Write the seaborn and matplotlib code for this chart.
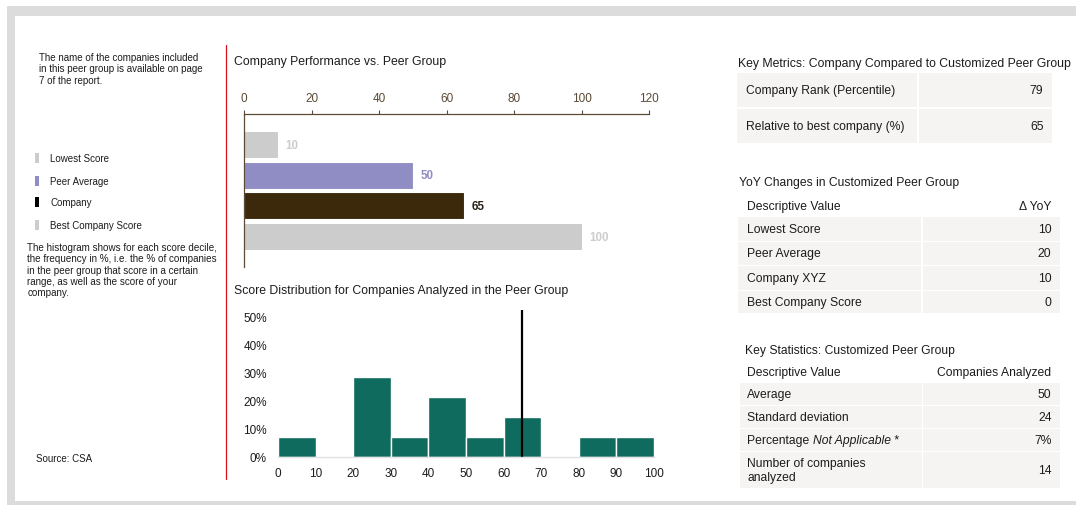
import numpy as np
import pandas as pd
import matplotlib
matplotlib.use("Agg")
import matplotlib.pyplot as plt
import seaborn as sns
from matplotlib.patches import Rectangle

# ---------------- data ----------------
perf_labels = ["Lowest Score", "Peer Average", "Company", "Best Company Score"]
perf_values = [10, 50, 65, 100]
perf_colors = ["#cccccc", "#908dc4", "#3c290b", "#cccccc"]
perf_label_colors = ["#cccccc", "#908dc4", "#2a2116", "#cccccc"]
perf_ticks = [0, 20, 40, 60, 80, 100, 120]

hist_bin_left = [0, 10, 20, 30, 40, 50, 60, 70, 80, 90]
hist_freq_pct = [7.1, 0, 28.6, 7.1, 21.4, 7.1, 14.3, 0, 7.1, 7.1]
company_score = 65
hist_yticks = [0, 10, 20, 30, 40, 50]
hist_xticks = [0, 10, 20, 30, 40, 50, 60, 70, 80, 90, 100]

km_labels = ["Company Rank (Percentile)", "Relative to best company (%)"]
km_values = ["79", "65"]
yoy_labels = ["Lowest Score", "Peer Average", "Company XYZ", "Best Company Score"]
yoy_values = ["10", "20", "10", "0"]
st_labels = ["Average", "Standard deviation", "Percentage |Not Applicable| *",
             "Number of companies\nanalyzed"]
st_values = ["50", "24", "7%", "14"]

legend_labels = ["Lowest Score", "Peer Average", "Company", "Best Company Score"]
legend_colors = ["#cccccc", "#908dc4", "#000000", "#cccccc"]

note_top = ["The name of the companies included",
            "in this peer group is available on page",
            "7 of the report."]
note_hist = ["The histogram shows for each score decile,",
             "the frequency in %, i.e. the % of companies",
             "in the peer group that score in a certain",
             "range, as well as the score of your",
             "company."]

# ---------------- style ----------------
sns.set_style("white")
plt.rcParams['font.family'] = ['Liberation Sans', 'DejaVu Sans']
TXT = "#1c1c1c"
CELL = "#f5f4f2"
TEAL = "#0e6b5d"
BROWN = "#5a4a36"

W, H = 1076, 506
fig = plt.figure(figsize=(W / 100, H / 100), dpi=100)
fig.patch.set_facecolor("white")


def fx(x):
    return x / W


def fy(y):
    return 1 - y / H


def rect(x0, y0, x1, y1, color, z=0):
    fig.patches.append(Rectangle((fx(x0), fy(y1)), (x1 - x0) / W, (y1 - y0) / H,
                                 transform=fig.transFigure, facecolor=color,
                                 edgecolor="none", zorder=z))


def txt(x, y, s, **kw):
    kw.setdefault("color", TXT)
    kw.setdefault("va", "center")
    return fig.text(fx(x), fy(y), s, **kw)


# frame
rect(7, 7, 1090, 520, "#dcdcdc", z=-2)
rect(15, 17, 1090, 502, "white", z=-1)

# red separator
fig.add_artist(plt.Line2D([fx(225.7), fx(225.7)], [fy(46), fy(480)],
                          transform=fig.transFigure, color="#d0121f", lw=0.9))

# ---------------- left notes ----------------
SM = 7.0
for i, line in enumerate(note_top):
    txt(39, 57.7 + i * 11.7, line, fontsize=SM)
leg_y = [159.3, 181.7, 203.3, 225.7]
for yy, lab, col in zip(leg_y, legend_labels, legend_colors):
    rect(34.5, yy - 5, 38.5, yy + 5, col)
    txt(50.5, yy, lab, fontsize=SM)
for i, line in enumerate(note_hist):
    txt(27.3, 247.7 + i * 11.4, line, fontsize=7.1)
txt(35.5, 459, "Source: CSA", fontsize=SM)

# ---------------- bar chart ----------------
txt(234, 62, "Company Performance vs. Peer Group", fontsize=8.8)
ax1 = fig.add_axes([fx(244.3), fy(268), (649 - 244.3) / W, (268 - 115) / H])
sns.barplot(x=perf_values, y=perf_labels, hue=perf_labels, palette=perf_colors,
            orient="h", width=0.88, legend=False, saturation=1,
            edgecolor="white", linewidth=0.8, ax=ax1)
ax1.set_xlim(0, 120)
ax1.set_ylim(3.99, -0.995)
ax1.set_xticks(perf_ticks)
ax1.set_yticks([])
ax1.set_xlabel("")
ax1.set_ylabel("")
ax1.xaxis.tick_top()
ax1.tick_params(axis="x", length=3, width=0.8, color=BROWN, labelcolor=BROWN,
                labelsize=8.5, pad=4)
for s in ["right", "bottom"]:
    ax1.spines[s].set_visible(False)
for s in ["top", "left"]:
    ax1.spines[s].set_color(BROWN)
    ax1.spines[s].set_linewidth(0.9)
for i, (v, c) in enumerate(zip(perf_values, perf_label_colors)):
    ax1.annotate(str(v), (v, i), xytext=(5.5, 0), textcoords="offset points",
                 ha="left", va="center", fontsize=8.3, fontweight="bold", color=c)
ax1.patch.set_alpha(0)

# ---------------- histogram ----------------
hist_df = pd.DataFrame({"mid": [b + 5 for b in hist_bin_left], "pct": hist_freq_pct})
txt(234, 291, "Score Distribution for Companies Analyzed in the Peer Group", fontsize=8.8)
ax2 = fig.add_axes([fx(278), fy(458), (654 - 278) / W, (458 - 311) / H])
sns.histplot(data=hist_df, x="mid", weights="pct",
             bins=list(range(0, 101, 10)), color=TEAL, alpha=1,
             edgecolor="white", linewidth=1.0, ax=ax2)
ax2.axvline(company_score, color="black", lw=1.6, ymin=0, ymax=1)
ax2.set_xlim(0, 100)
ax2.set_ylim(0, 52.5)
ax2.set_yticks(hist_yticks)
ax2.set_yticklabels([f"{t}%" for t in hist_yticks])
ax2.set_xticks(hist_xticks)
ax2.set_xlabel("")
ax2.set_ylabel("")
ax2.tick_params(axis="y", length=0, labelsize=8.5, labelcolor=TXT, pad=8)
ax2.tick_params(axis="x", length=2, color="#e0e0e0", labelsize=8.5, labelcolor=TXT, pad=5)
for s in ["top", "right", "left"]:
    ax2.spines[s].set_visible(False)
ax2.spines["bottom"].set_color("#e3e3e3")
ax2.spines["bottom"].set_linewidth(1.0)
ax2.patch.set_alpha(0)

# ---------------- tables ----------------
FS = 8.7
# table 1
txt(738.5, 64, "Key Metrics: Company Compared to Customized Peer Group", fontsize=8.8)
rows1 = [(74, 108), (110, 144)]
for (y0, y1), lab, val in zip(rows1, km_labels, km_values):
    rect(737, y0, 917, y1, CELL)
    rect(919, y0, 1052, y1, CELL)
    yc = (y0 + y1) / 2
    txt(746, yc, lab, fontsize=FS)
    txt(1043.5, yc, val, fontsize=FS, ha="right")

# table 2
txt(739, 183.3, "YoY Changes in Customized Peer Group", fontsize=FS)
txt(747, 206.7, "Descriptive Value", fontsize=FS)
txt(1051.5, 206.7, "\u0394 YoY", fontsize=FS, ha="right")
rows2 = [(218, 241.5), (242.5, 266), (267, 290.5), (291.5, 314)]
for (y0, y1), lab, val in zip(rows2, yoy_labels, yoy_values):
    rect(738, y0, 921, y1, CELL)
    rect(923, y0, 1060, y1, CELL)
    yc = (y0 + y1) / 2
    txt(747, yc, lab, fontsize=FS)
    txt(1051.5, yc, val, fontsize=FS, ha="right")

# table 3
txt(745, 351.5, "Key Statistics: Customized Peer Group", fontsize=FS)
txt(747, 373.3, "Descriptive Value", fontsize=FS)
txt(1051.5, 373.3, "Companies Analyzed", fontsize=FS, ha="right")
rows3 = [(384, 406), (407, 429), (430, 452), (453, 489)]
fig.canvas.draw()
renderer = fig.canvas.get_renderer()
for (y0, y1), lab, val in zip(rows3, st_labels, st_values):
    rect(740, y0, 921.5, y1, CELL)
    rect(923, y0, 1060, y1, CELL)
    yc = (y0 + y1) / 2
    if "|" in lab:
        parts = lab.split("|")
        x = 747
        for k, p in enumerate(parts):
            t = txt(x, yc, p, fontsize=FS, style="italic" if k == 1 else "normal")
            bb = t.get_window_extent(renderer=renderer)
            x += bb.width
    else:
        txt(747, yc, lab, fontsize=FS, linespacing=1.25)
    txt(1051.5, yc, val, fontsize=FS, ha="right")

fig.savefig("out.png", dpi=100)
